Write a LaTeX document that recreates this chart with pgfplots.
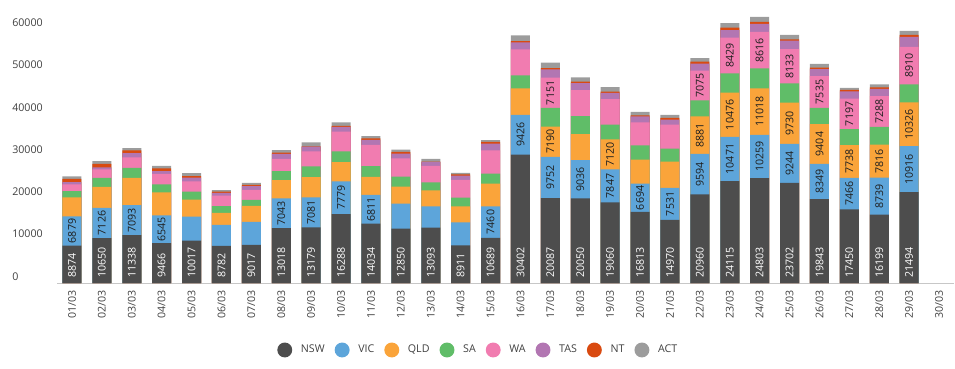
\documentclass[border=0pt]{standalone}
\usepackage{pgfplots}
\pgfplotsset{compat=1.18}
\usepackage{pgfplotstable}
\usepackage{fontspec}
\setmainfont{Open Sans}
\definecolor{nswc}{HTML}{4D4D4D}
\definecolor{vicc}{HTML}{5DA5DA}
\definecolor{qldc}{HTML}{FAA43A}
\definecolor{sac}{HTML}{60BD68}
\definecolor{wac}{HTML}{F17CB0}
\definecolor{tasc}{HTML}{B276B2}
\definecolor{ntc}{HTML}{D94A10}
\definecolor{actc}{HTML}{9C9C9C}
\definecolor{tickc}{HTML}{404040}
\definecolor{labc}{HTML}{1E1E1E}

\pgfplotstableread{
idx nsw vic qld sa wa tas nt act
0 8874 6879 4500 1500 1580 550 790 550
1 10650 7126 5000 2100 2000 500 800 700
2 11338 7093 6480 2370 2450 1030 630 550
3 9466 6545 5450 1900 2500 600 700 550
4 10017 5690 4030 1900 2450 870 320 710
5 8782 4980 2840 1580 2530 630 320 320
6 9017 5450 3790 1420 2370 870 320 470
7 13018 7043 4270 2130 2920 1190 320 550
8 13179 7081 4820 2530 3550 1100 100 950
9 16288 7779 4580 2530 4660 1100 240 870
10 14034 6811 4270 2530 5060 1190 320 550
11 12850 5930 4030 2370 4350 1100 400 550
12 13093 5060 3790 1900 3870 950 80 630
13 8911 5450 3790 2050 4190 1030 320 320
14 10689 7460 5370 2370 5530 1580 400 400
15 30402 9426 6240 3080 6160 1660 320 1340
16 20087 9752 7190 4420 7151 1980 320 1260
17 20050 9036 6160 4270 6160 1660 320 1030
18 19060 7847 7120 3480 6000 1500 320 1030
19 16813 6694 5690 3400 5450 1420 240 790
20 14970 7531 6240 3080 5690 1190 400 710
21 20960 9594 8881 3790 7075 1660 470 790
22 24115 10471 10476 4580 8429 1820 550 1100
23 24803 10259 11018 4740 8616 1900 470 1190
24 23702 9244 9730 4580 8133 1980 320 1030
25 19843 8349 9404 3870 7535 1660 320 870
26 17450 7466 7738 3790 7197 1740 320 470
27 16199 8739 7816 4190 7288 1740 320 710
28 21494 10916 10326 4270 8910 2370 470 950
}\data

\pgfplotsset{
  barsty/.style={ybar, bar width=14.25pt, bar shift=0pt, draw=none, forget plot},
  labsty/.style={draw=none, mark=none, forget plot, point meta=explicit,
    nodes near coords,
    every node near coord/.style={rotate=90, anchor=center, inner sep=0pt,
      font=\fontsize{8}{9}\selectfont, text=labc}},
}

\begin{document}
\begin{tikzpicture}
\useasboundingbox (0,0) rectangle (716.25pt,276pt);
\begin{axis}[
  at={(42.75pt,63.75pt)}, anchor=south west,
  scale only axis, width=672.75pt, height=212.25pt,
  xmin=-0.5, xmax=29.5, ymin=0, ymax=67000,
  axis lines=left, axis line style={-},
  y axis line style={draw=none},
  x axis line style={draw=black!22, line width=0.75pt},
  tick style={draw=none}, major tick length=0pt,
  xtick={0,...,29},
  xticklabels={01/03,02/03,03/03,04/03,05/03,06/03,07/03,08/03,09/03,10/03,11/03,12/03,13/03,14/03,15/03,16/03,17/03,18/03,19/03,20/03,21/03,22/03,23/03,24/03,25/03,26/03,27/03,28/03,29/03,30/03},
  ytick={0,10000,...,60000},
  scaled y ticks=false,
  /pgf/number format/1000 sep={},
  /pgf/number format/assume math mode=true,
  ticklabel style={font=\fontsize{8}{9}\selectfont, text=tickc},
  yticklabel style={anchor=west, inner sep=0pt, xshift=-33.75pt, yshift=5pt},
  xticklabel style={yshift=-5.25pt, rotate=90, anchor=east, inner sep=0pt},
  restrict y to domain=-100:1000000,
  legend columns=-1,
  legend style={draw=none, fill=none, at={(0.470,-0.2367)}, anchor=center,
    font=\fontsize{8}{9}\selectfont, text=tickc,
    /tikz/every odd column/.append style={column sep=4.5pt},
    /tikz/every even column/.append style={column sep=5.5pt}},
  legend image code/.code={\path[#1, draw=none] (5.6pt,0pt) circle (5.6pt);},
]
\addlegendimage{fill=nswc}
\addlegendimage{fill=vicc}
\addlegendimage{fill=qldc}
\addlegendimage{fill=sac}
\addlegendimage{fill=wac}
\addlegendimage{fill=tasc}
\addlegendimage{fill=ntc}
\addlegendimage{fill=actc}

\addplot[barsty, fill=actc] table[x=idx, y expr=\thisrow{nsw}+\thisrow{vic}+\thisrow{qld}+\thisrow{sa}+\thisrow{wa}+\thisrow{tas}+\thisrow{nt}+\thisrow{act}] {\data};
\addplot[barsty, fill=ntc] table[x=idx, y expr=\thisrow{nsw}+\thisrow{vic}+\thisrow{qld}+\thisrow{sa}+\thisrow{wa}+\thisrow{tas}+\thisrow{nt}] {\data};
\addplot[barsty, fill=tasc] table[x=idx, y expr=\thisrow{nsw}+\thisrow{vic}+\thisrow{qld}+\thisrow{sa}+\thisrow{wa}+\thisrow{tas}] {\data};
\addplot[barsty, fill=wac] table[x=idx, y expr=\thisrow{nsw}+\thisrow{vic}+\thisrow{qld}+\thisrow{sa}+\thisrow{wa}] {\data};
\addplot[barsty, fill=sac] table[x=idx, y expr=\thisrow{nsw}+\thisrow{vic}+\thisrow{qld}+\thisrow{sa}] {\data};
\addplot[barsty, fill=qldc] table[x=idx, y expr=\thisrow{nsw}+\thisrow{vic}+\thisrow{qld}] {\data};
\addplot[barsty, fill=vicc] table[x=idx, y expr=\thisrow{nsw}+\thisrow{vic}] {\data};
\addplot[barsty, fill=nswc] table[x=idx, y=nsw] {\data};

% value labels
\addplot[labsty, every node near coord/.append style={text=white, anchor=west, xshift=3.75pt}]
  table[x=idx, y expr=0, meta=nsw] {\data};
\addplot[labsty]
  table[x=idx, y expr={\thisrow{vic}>6499 ? \thisrow{nsw}+\thisrow{vic}/2 : 10000000}, meta=vic] {\data};
\addplot[labsty]
  table[x=idx, y expr={\thisrow{qld}>6499 ? \thisrow{nsw}+\thisrow{vic}+\thisrow{qld}/2 : 10000000}, meta=qld] {\data};
\addplot[labsty]
  table[x=idx, y expr={\thisrow{wa}>6499 ? \thisrow{nsw}+\thisrow{vic}+\thisrow{qld}+\thisrow{sa}+\thisrow{wa}/2 : 10000000}, meta=wa] {\data};

\legend{NSW,VIC,QLD,SA,WA,TAS,NT,ACT}
\end{axis}
\end{tikzpicture}
\end{document}
